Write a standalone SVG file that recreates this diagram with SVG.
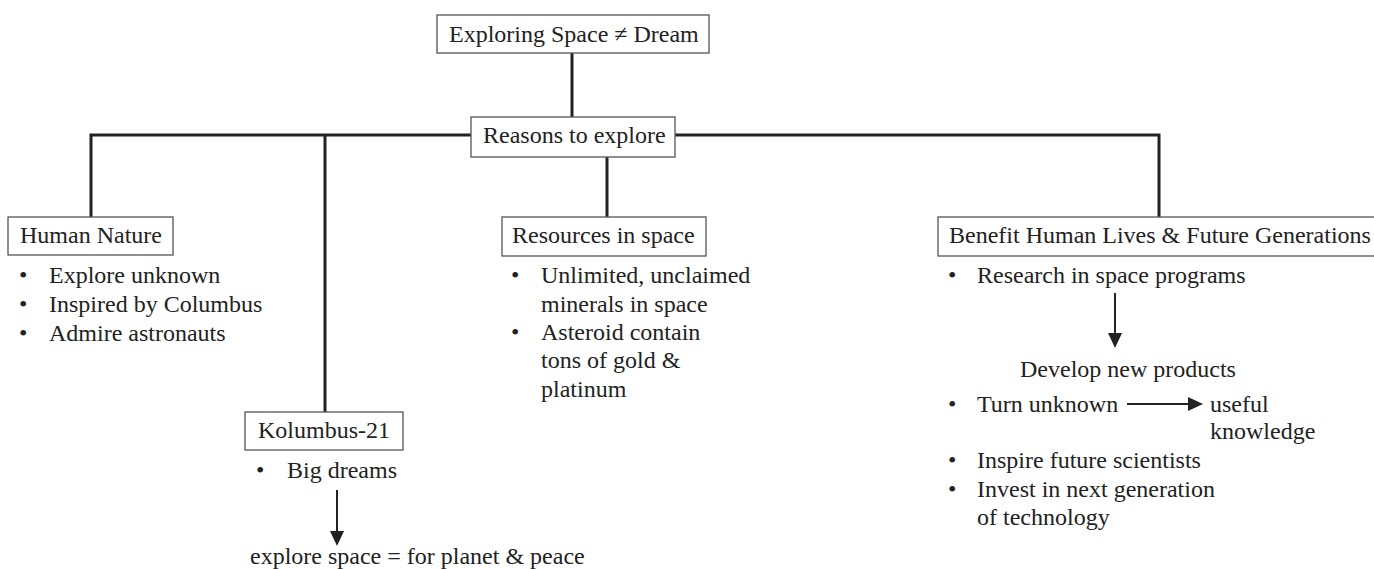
<svg xmlns="http://www.w3.org/2000/svg" width="1374" height="569" viewBox="0 0 1374 569">
<style>
text{font-family:"Liberation Serif","Times New Roman",serif;font-size:24px;fill:#222}
.box{fill:#fff;stroke:#555;stroke-width:1.3}
.ln{fill:none;stroke:#222;stroke-width:3}
.ar{fill:none;stroke:#222;stroke-width:2}
.hd{fill:#222}
</style>
<rect width="1374" height="569" fill="#fff"/>
<g id="connectors">
<line class="ln" x1="572" y1="53" x2="572" y2="118"/>
<polyline class="ln" points="91,217 91,135 1159,135 1159,217"/>
<line class="ln" x1="325" y1="135" x2="325" y2="412"/>
<line class="ln" x1="607" y1="157" x2="607" y2="217"/>
<line class="ar" x1="337" y1="490" x2="337" y2="532"/>
<polygon class="hd" points="330,531 344,531 337,546"/>
<line class="ar" x1="1115" y1="293" x2="1115" y2="334"/>
<polygon class="hd" points="1108,333 1122,333 1115,348"/>
<line class="ar" x1="1127" y1="404" x2="1190" y2="404"/>
<polygon class="hd" points="1188,397 1188,411 1203,404"/>
</g>
<g id="n-root">
<rect class="box" x="437" y="15" width="272" height="38"/>
<text x="449" y="42">Exploring Space ≠ Dream</text>
</g>
<g id="n-reasons">
<rect class="box" x="471" y="117" width="204" height="40"/>
<text x="483" y="143">Reasons to explore</text>
</g>
<g id="n-human">
<rect class="box" x="8" y="217" width="165" height="38"/>
<text x="20" y="243">Human Nature</text>
<text x="19" y="283">•</text><text x="49" y="283">Explore unknown</text>
<text x="19" y="312">•</text><text x="49" y="312">Inspired by Columbus</text>
<text x="19" y="341">•</text><text x="49" y="341">Admire astronauts</text>
</g>
<g id="n-kolumbus">
<rect class="box" x="245" y="412" width="158" height="38"/>
<text x="258" y="438">Kolumbus-21</text>
<text x="256" y="478">•</text><text x="287" y="478">Big dreams</text>
<text x="250" y="564">explore space = for planet &amp; peace</text>
</g>
<g id="n-resources">
<rect class="box" x="502" y="217" width="204" height="39"/>
<text x="512" y="243">Resources in space</text>
<text x="511" y="283">•</text><text x="541" y="283">Unlimited, unclaimed</text>
<text x="541" y="312">minerals in space</text>
<text x="511" y="340">•</text><text x="541" y="340">Asteroid contain</text>
<text x="541" y="368">tons of gold &amp;</text>
<text x="541" y="397">platinum</text>
</g>
<g id="n-benefit">
<rect class="box" x="938" y="217" width="445" height="39"/>
<text x="949" y="243">Benefit Human Lives &amp; Future Generations</text>
<text x="948" y="283">•</text><text x="977" y="283">Research in space programs</text>
<text x="1020" y="377">Develop new products</text>
<text x="948" y="412">•</text><text x="977" y="412">Turn unknown</text>
<text x="1210" y="412">useful</text>
<text x="1210" y="439">knowledge</text>
<text x="948" y="468">•</text><text x="977" y="468">Inspire future scientists</text>
<text x="948" y="497">•</text><text x="977" y="497">Invest in next generation</text>
<text x="977" y="525">of technology</text>
</g>
</svg>
